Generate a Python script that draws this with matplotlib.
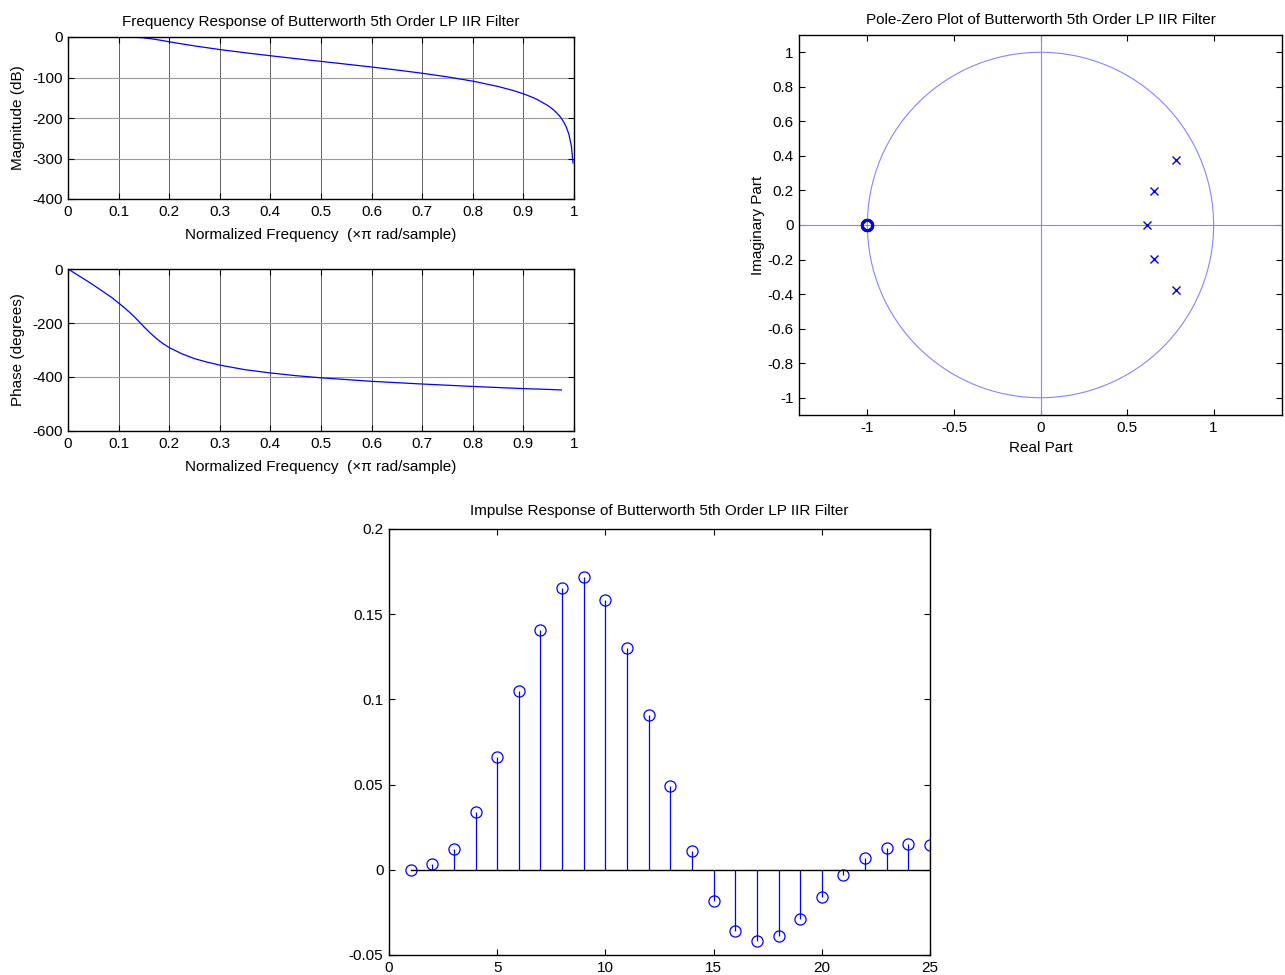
import matplotlib
matplotlib.use('Agg')
import matplotlib.pyplot as plt
from matplotlib.ticker import FuncFormatter
from matplotlib.patches import Circle

plt.rcParams['font.family'] = ['Liberation Sans', 'DejaVu Sans']
plt.rcParams['font.size'] = 11
plt.rcParams['axes.unicode_minus'] = False

# ---------------- data ----------------
freq_mag = [0, 0.05, 0.1, 0.13, 0.14, 0.15, 0.16, 0.17, 0.18, 0.2, 0.22, 0.25,
            0.3, 0.35, 0.4, 0.45, 0.5, 0.55, 0.6, 0.65, 0.7, 0.75, 0.8, 0.85,
            0.88, 0.9, 0.92, 0.93, 0.95, 0.96, 0.97, 0.975, 0.98, 0.985,
            0.99, 0.995, 0.998]
mag_db = [0, 0, 0, -0.6, -1.2, -2.2, -3.6, -5.4, -7.4, -11.7, -16.0, -22.0,
          -31.0, -38.9, -46.3, -53.4, -60.2, -67.1, -74.1, -81.5, -89.5, -98.5,
          -109.0, -122.2, -132.2, -140.2, -150.0, -156.2, -170.6, -180.3,
          -192.8, -200.8, -210.5, -223.0, -240.6, -270.7, -311.0]

freq_phase = [0, 0.025, 0.05, 0.0625, 0.075, 0.0875, 0.1, 0.1125, 0.125,
              0.1375, 0.15, 0.1625, 0.175, 0.1875, 0.2, 0.225, 0.25, 0.275,
              0.3, 0.35, 0.4, 0.45, 0.5, 0.6, 0.7, 0.8, 0.9, 0.95, 0.975]
phase_deg = [0, -29, -59, -75, -91, -107, -126, -145, -166, -189, -214, -237,
             -258, -276, -291, -314, -332, -345, -356, -373, -385, -395, -403,
             -416, -426, -435, -443, -446, -448]

zeros_re = [-1, -1, -1, -1, -1]
zeros_im = [0, 0, 0, 0, 0]
poles_re = [0.78, 0.653, 0.613, 0.653, 0.78]
poles_im = [0.378, 0.197, 0.0, -0.197, -0.378]

n_samples = list(range(1, 26))
impulse = [0.0, 0.0033, 0.0125, 0.0339, 0.0662, 0.105, 0.1408, 0.1651,
           0.1716, 0.1585, 0.1299, 0.0911, 0.0494, 0.0112, -0.0182, -0.0357,
           -0.0415, -0.0386, -0.0286, -0.0159, -0.0033, 0.0069, 0.0127,
           0.0149, 0.0143]

freq_ticks = [0, 0.1, 0.2, 0.3, 0.4, 0.5, 0.6, 0.7, 0.8, 0.9, 1]
mag_ticks = [-400, -300, -200, -100, 0]
phase_ticks = [-600, -400, -200, 0]
pz_xticks = [-1, -0.5, 0, 0.5, 1]
pz_yticks = [-1, -0.8, -0.6, -0.4, -0.2, 0, 0.2, 0.4, 0.6, 0.8, 1]
imp_xticks = [0, 5, 10, 15, 20, 25]
imp_yticks = [-0.05, 0, 0.05, 0.1, 0.15, 0.2]

# ---------------- figure ----------------
W, H = 1285, 975
fig = plt.figure(figsize=(W / 100, H / 100), dpi=100)


def ax_px(l, t, r, b):
    return fig.add_axes([l / W, 1 - b / H, (r - l) / W, (b - t) / H])


fmt = FuncFormatter(lambda v, p: '%g' % round(v, 6) if abs(v) > 1e-12 else '0')

BLUE = '#0000ff'
LIGHT = '#8585ff'
FS = 11


def style(ax):
    ax.tick_params(direction='in', top=True, right=True, length=4,
                   width=0.8, labelsize=FS, pad=4, colors='black')
    for s in ax.spines.values():
        s.set_linewidth(1.0)
        s.set_color('black')
    ax.xaxis.set_major_formatter(fmt)
    ax.yaxis.set_major_formatter(fmt)


def grid(ax):
    ax.xaxis.grid(True, color='#606060', linewidth=0.7, linestyle='-')
    ax.yaxis.grid(True, color='#9a9a9a', linewidth=0.8, linestyle='-')
    ax.set_axisbelow(True)


# Magnitude
ax1 = ax_px(68, 37, 574, 199)
ax1.plot(freq_mag, mag_db, color=BLUE, lw=0.9)
ax1.set_xlim(0, 1)
ax1.set_ylim(-400, 0)
ax1.set_xticks(freq_ticks)
ax1.set_yticks(mag_ticks)
style(ax1)
grid(ax1)
ax1.set_title('Frequency Response of Butterworth 5th Order LP IIR Filter',
              fontsize=FS, pad=8)
ax1.set_xlabel('Normalized Frequency  (\u00d7\u03c0 rad/sample)', labelpad=7)
ax1.set_ylabel('Magnitude (dB)', labelpad=5)

# Phase
ax2 = ax_px(68, 269, 574, 431)
ax2.plot(freq_phase, phase_deg, color=BLUE, lw=0.9)
ax2.set_xlim(0, 1)
ax2.set_ylim(-600, 0)
ax2.set_xticks(freq_ticks)
ax2.set_yticks(phase_ticks)
style(ax2)
grid(ax2)
ax2.set_xlabel('Normalized Frequency  (\u00d7\u03c0 rad/sample)', labelpad=7)
ax2.set_ylabel('Phase (degrees)', labelpad=5)

# Pole-zero
ax3 = ax_px(799, 35, 1282, 415)
ax3.add_patch(Circle((0, 0), 1, fill=False, edgecolor=LIGHT, lw=0.8))
ax3.axhline(0, color=LIGHT, lw=0.8)
ax3.axvline(0, color=LIGHT, lw=0.8)
ax3.plot(zeros_re, zeros_im, 'o', mfc='none', mec=BLUE, ms=7.5, mew=2)
ax3.plot(poles_re, poles_im, 'x', color=BLUE, ms=6, mew=1)
ax3.set_xlim(-1.395, 1.395)
ax3.set_ylim(-1.1, 1.1)
ax3.set_xticks(pz_xticks)
ax3.set_yticks(pz_yticks)
style(ax3)
ax3.set_title('Pole-Zero Plot of Butterworth 5th Order LP IIR Filter',
              fontsize=FS, pad=8)
ax3.set_xlabel('Real Part', labelpad=5)
ax3.set_ylabel('Imaginary Part', labelpad=2)

# Impulse response
ax4 = ax_px(389, 529, 930, 955)
markerline, stemlines, baseline = ax4.stem(n_samples, impulse, basefmt='k-')
markerline.set_markerfacecolor('none')
markerline.set_markeredgecolor(BLUE)
markerline.set_markersize(8)
markerline.set_markeredgewidth(0.9)
stemlines.set_color(BLUE)
stemlines.set_linewidth(0.9)
baseline.set_linewidth(1.0)
ax4.set_xlim(0, 25)
ax4.set_ylim(-0.05, 0.2)
ax4.set_xticks(imp_xticks)
ax4.set_yticks(imp_yticks)
style(ax4)
ax4.set_title('Impulse Response of Butterworth 5th Order LP IIR Filter',
              fontsize=FS, pad=10)

fig.savefig('out.png', dpi=100)
